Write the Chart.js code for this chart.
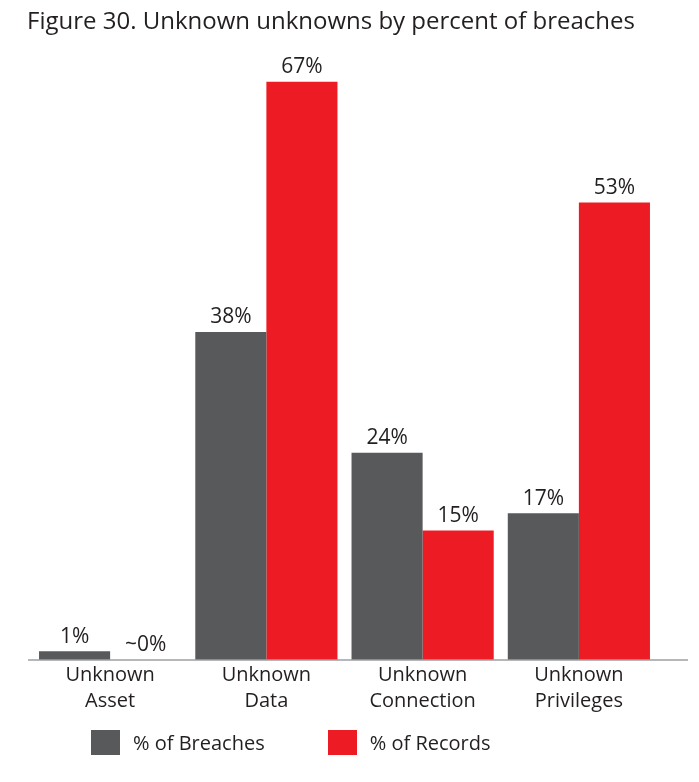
<!DOCTYPE html>
<html>
<head>
<meta charset="utf-8">
<script src="https://cdn.jsdelivr.net/npm/chart.js@4.4.1/dist/chart.umd.min.js"></script>
<style>
  html, body { margin: 0; padding: 0; background: #fff; }
  #wrap { position: relative; width: 699px; height: 782px; }
  #legend { position: absolute; left: 91px; top: 729px; display: flex; font: 20px "Open Sans", sans-serif; color: #231f20; }
  #legend .item { display: flex; align-items: center; margin-right: 63px; }
  #legend .box { width: 29px; height: 25px; margin-right: 13px; }
</style>
</head>
<body>
<div id="wrap">
  <canvas id="chart" width="699" height="782"></canvas>
  <div id="legend"></div>
</div>
<script>
const categories = [['Unknown', 'Asset'], ['Unknown', 'Data'], ['Unknown', 'Connection'], ['Unknown', 'Privileges']];
const breaches = [1, 38, 24, 17];
const records = [0, 67, 15, 53];
const seriesNames = ['% of Breaches', '% of Records'];
const seriesColors = ['#58595b', '#ed1c24'];

const textColor = '#231f20';
const fontFamily = '"Open Sans", sans-serif';

// value labels above each bar
const valueLabels = {
  id: 'valueLabels',
  afterDatasetsDraw(chart) {
    const ctx = chart.ctx;
    ctx.save();
    ctx.font = '21px ' + fontFamily;
    ctx.fillStyle = textColor;
    ctx.textAlign = 'center';
    ctx.textBaseline = 'bottom';
    chart.data.datasets.forEach((ds, i) => {
      chart.getDatasetMeta(i).data.forEach((bar, j) => {
        const v = ds.data[j];
        const txt = v === 0 ? '~0%' : v + '%';
        ctx.fillText(txt, bar.x, bar.y - 4);
      });
    });
    ctx.restore();
  }
};

// thin baseline that runs past the plot edges
const baseline = {
  id: 'baseline',
  afterDatasetsDraw(chart) {
    const ctx = chart.ctx;
    const y = chart.scales.y.getPixelForValue(0);
    ctx.save();
    ctx.strokeStyle = '#9d9fa2';
    ctx.lineWidth = 1.5;
    ctx.beginPath();
    ctx.moveTo(chart.chartArea.left - 4, y);
    ctx.lineTo(chart.chartArea.right + 31, y);
    ctx.stroke();
    ctx.restore();
  }
};

new Chart(document.getElementById('chart'), {
  type: 'bar',
  data: {
    labels: categories,
    datasets: [
      { label: seriesNames[0], data: breaches, backgroundColor: seriesColors[0] },
      { label: seriesNames[1], data: records, backgroundColor: seriesColors[1] }
    ]
  },
  options: {
    responsive: false,
    animation: false,
    layout: { padding: { left: 27, right: 42, top: 0, bottom: 66 } },
    datasets: { bar: { categoryPercentage: 0.91, barPercentage: 1.0 } },
    scales: {
      x: {
        grid: { display: false, drawTicks: false },
        border: { display: false },
        ticks: { color: textColor, padding: 2, font: { family: fontFamily, size: 20, lineHeight: 1.3 }, maxRotation: 0 }
      },
      y: {
        min: 0, max: 70,
        grid: { display: false, drawTicks: false },
        border: { display: false },
        ticks: { display: false },
        afterFit(scale) { scale.width = 5; }
      }
    },
    plugins: {
      legend: { display: false },
      tooltip: { enabled: false },
      title: {
        display: true,
        text: 'Figure 30. Unknown unknowns by percent of breaches',
        align: 'start',
        color: textColor,
        font: { family: fontFamily, size: 24, weight: 'normal', lineHeight: 1.2 },
        padding: { top: 8, bottom: 19 }
      }
    }
  },
  plugins: [valueLabels, baseline]
});

const legend = document.getElementById('legend');
seriesNames.forEach((name, i) => {
  const item = document.createElement('div');
  item.className = 'item';
  item.innerHTML = '<span class="box" style="background:' + seriesColors[i] + '"></span><span>' + name + '</span>';
  legend.appendChild(item);
});
</script>
</body>
</html>
